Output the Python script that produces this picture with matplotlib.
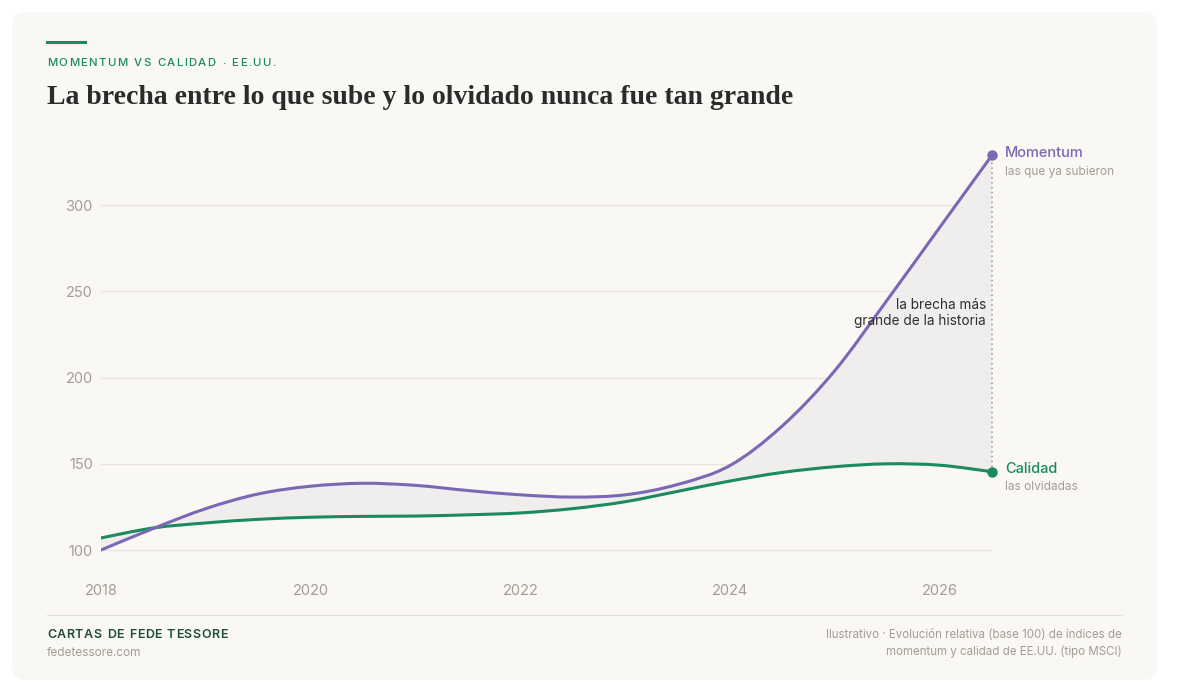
import matplotlib
matplotlib.use("Agg")
import matplotlib.pyplot as plt
from matplotlib.patches import FancyBboxPatch, PathPatch
from matplotlib.path import Path
from matplotlib.lines import Line2D

# data (base 100)
years = [2018.0, 2018.5, 2019.0, 2019.5, 2020.0, 2020.5, 2021.0, 2021.5, 2022.0,
         2022.5, 2023.0, 2023.5, 2024.0, 2024.5, 2025.0, 2025.5, 2026.0, 2026.5]
momentum = [100, 112.5, 124, 132.5, 137, 138.7, 137.5, 134.5, 132,
            130.7, 132, 138, 149, 172, 204, 245, 287, 329]
calidad = [107, 112.8, 115.7, 117.8, 119, 119.5, 119.7, 120.4, 121.5,
           124, 128, 134, 140, 145, 148.3, 150, 149.2, 145.4]
y_ticks = [100, 150, 200, 250, 300]
x_ticks = [2018, 2020, 2022, 2024, 2026]

PURPLE = "#7b68b5"
GREEN = "#1a8a5f"
GRAY_TXT = "#a39d93"
CARD = "#f9f8f4"
SANS = ["Inter", "DejaVu Sans"]

W, H = 1200, 692
fig = plt.figure(figsize=(W / 100, H / 100), dpi=100)
fig.patch.set_facecolor("white")


def fx(px):
    return px / W


def fy(py):
    return 1 - py / H


card = FancyBboxPatch((fx(12), fy(680)), fx(1157) - fx(12), fy(12) - fy(680),
                      boxstyle="round,pad=0,rounding_size=0.012",
                      transform=fig.transFigure, facecolor=CARD, edgecolor="none",
                      mutation_aspect=W / H, zorder=-5)
fig.patches.append(card)


def spaced_text(x, y, s, spacing, **kw):
    # draw letter by letter to mimic tracking
    renderer = fig.canvas.get_renderer()
    cur = x
    for ch in s:
        t = fig.text(cur, y, ch, va="center", ha="left", **kw)
        if ch == " ":
            w = fig.text(0, 0, "n", **kw)
            wid = w.get_window_extent(renderer).width * 0.55
            w.remove()
        else:
            wid = t.get_window_extent(renderer).width
        cur += (wid + spacing) / W


def smooth_segments(xs, ys):
    # catmull-rom -> cubic bezier path codes through the given points
    verts = [(xs[0], ys[0])]
    codes = [Path.MOVETO]
    n = len(xs)
    for i in range(n - 1):
        p0 = (xs[max(i - 1, 0)], ys[max(i - 1, 0)])
        p1 = (xs[i], ys[i])
        p2 = (xs[i + 1], ys[i + 1])
        p3 = (xs[min(i + 2, n - 1)], ys[min(i + 2, n - 1)])
        c1 = (p1[0] + (p2[0] - p0[0]) / 6, p1[1] + (p2[1] - p0[1]) / 6)
        c2 = (p2[0] - (p3[0] - p1[0]) / 6, p2[1] - (p3[1] - p1[1]) / 6)
        verts += [c1, c2, p2]
        codes += [Path.CURVE4] * 3
    return verts, codes


# header
fig.add_artist(Line2D([fx(47), fx(85)], [fy(42), fy(42)], color=GREEN, lw=2.2,
                      transform=fig.transFigure))
spaced_text(fx(47), fy(63), "MOMENTUM VS CALIDAD · EE.UU.", 1.35,
            color=GREEN, fontsize=8.2, family=SANS, fontweight="medium")
fig.text(fx(47), fy(97), "La brecha entre lo que sube y lo olvidado nunca fue tan grande",
         family=["Liberation Serif", "DejaVu Serif"], fontweight="bold", fontsize=20,
         color="#2b2b2b", va="center", ha="left")

# axes
y0, y1 = 95, 335
px_per = 86.2 / 50
ax_bottom = 550 + (100 - y0) * px_per
ax_top = 550 - (y1 - 100) * px_per
ax = fig.add_axes([fx(101), fy(ax_bottom), fx(992) - fx(101), fy(ax_top) - fy(ax_bottom)])
ax.set_facecolor("none")
ax.set_xlim(2018, 2026.5)
ax.set_ylim(y0, y1)
for s in ax.spines.values():
    s.set_visible(False)
for v in y_ticks:
    ax.axhline(v, color="#e7e4de", lw=0.9, zorder=1)

mv, mc = smooth_segments(years, momentum)
cv, cc = smooth_segments(years[::-1], calidad[::-1])
fill_path = Path(mv + [cv[0]] + cv[1:] + [mv[0]],
                 mc + [Path.LINETO] + cc[1:] + [Path.CLOSEPOLY])
ax.add_patch(PathPatch(fill_path, facecolor="#efeeed", edgecolor="none", zorder=2))

gv, gc = smooth_segments(years, calidad)
ax.add_patch(PathPatch(Path(gv, gc), facecolor="none", edgecolor=GREEN, lw=2.2,
                       zorder=4, capstyle="round"))
ax.add_patch(PathPatch(Path(mv, mc), facecolor="none", edgecolor=PURPLE, lw=2.2,
                       zorder=5, capstyle="round"))
ax.plot([years[-1]], [momentum[-1]], "o", color=PURPLE, ms=6.5, zorder=6, clip_on=False)
ax.plot([years[-1]], [calidad[-1]], "o", color=GREEN, ms=6.5, zorder=6, clip_on=False)
ax.plot([years[-1], years[-1]], [calidad[-1], momentum[-1]], color="#9a958d",
        lw=1.1, ls=(0, (1, 2.2)), zorder=3, clip_on=False)

ax.set_yticks(y_ticks)
ax.set_yticklabels([str(v) for v in y_ticks])
ax.set_xticks(x_ticks)
ax.set_xticklabels([str(v) for v in x_ticks])
ax.tick_params(axis="both", length=0, colors=GRAY_TXT, labelsize=10.5)
ax.tick_params(axis="y", pad=6)
ax.tick_params(axis="x", pad=18)
for lab in ax.get_xticklabels() + ax.get_yticklabels():
    lab.set_family(SANS)

# end labels
fig.text(fx(1005), fy(153), "Momentum", color=PURPLE, fontsize=10.5, family=SANS,
         fontweight="medium", va="center", ha="left")
fig.text(fx(1005), fy(172), "las que ya subieron", color=GRAY_TXT, fontsize=8.5,
         family=SANS, va="center", ha="left")
fig.text(fx(1005), fy(469), "Calidad", color=GREEN, fontsize=10.5, family=SANS,
         fontweight="medium", va="center", ha="left")
fig.text(fx(1005), fy(487), "las olvidadas", color=GRAY_TXT, fontsize=8.5,
         family=SANS, va="center", ha="left")
fig.text(fx(986), fy(313), "la brecha más\ngrande de la historia", color="#2f2f2f",
         fontsize=9.8, family=SANS, va="center", ha="right", linespacing=1.25)

# footer
fig.add_artist(Line2D([fx(47), fx(1122)], [fy(615), fy(615)], color="#e4e1db", lw=0.9,
                      transform=fig.transFigure))
spaced_text(fx(47), fy(635), "CARTAS DE FEDE TESSORE", 0.5, color="#1f4d36",
            fontsize=9, family=SANS, fontweight="semibold")
fig.text(fx(47), fy(653), "fedetessore.com", color=GRAY_TXT, fontsize=8.5, family=SANS,
         va="center", ha="left")
fig.text(fx(1122), fy(635), "Ilustrativo · Evolución relativa (base 100) de índices de",
         color=GRAY_TXT, fontsize=8.3, family=SANS, va="center", ha="right")
fig.text(fx(1122), fy(652), "momentum y calidad de EE.UU. (tipo MSCI)",
         color=GRAY_TXT, fontsize=8.3, family=SANS, va="center", ha="right")

fig.savefig("out.png", dpi=100, facecolor="white")
